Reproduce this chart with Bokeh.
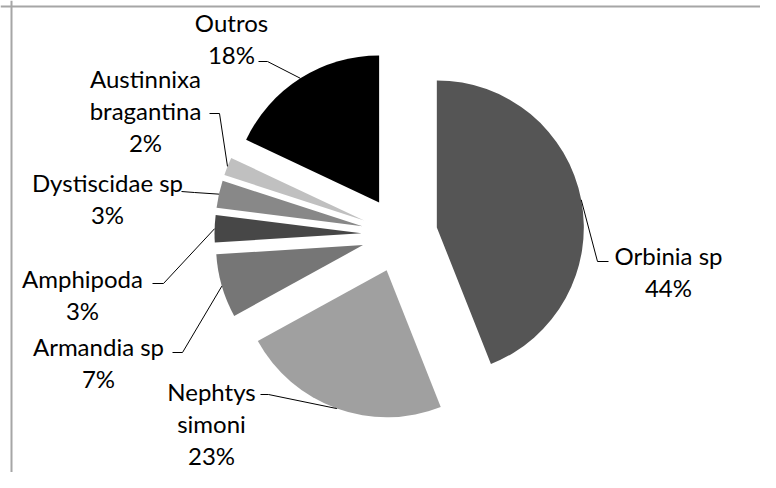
import numpy as np
from bokeh.plotting import figure
from bokeh.models import Range1d, Span, ColumnDataSource
from bokeh.embed import file_html
from bokeh.resources import INLINE
from bokeh.core.properties import value

# ---- data ----
categories = ["Orbinia sp", "Nephtys\nsimoni", "Armandia sp", "Amphipoda",
              "Dystiscidae sp", "Austinnixa\nbragantina", "Outros"]
percent = [44, 23, 7, 3, 3, 2, 18]
colors = ["#555555", "#a0a0a0", "#767676", "#474747", "#888888", "#c0c0c0", "#000000"]

# ---- layout (figure pixels, from top-left) ----
W, H = 760, 472
SHIFT = 16                 # move content up so everything fits the window
CX, CY = 399, 250 - SHIFT  # pie centre
R = 147                    # slice radius
EXPLODE = 38               # explosion distance
# label block centres
label_pos = [(668, 287), (211, 439), (98, 378), (82, 310), (107, 214), (145, 126), (231, 54)]
# leader line: label end point and elbow
leader_end = [(608, 277), (260, 410), (172, 368), (152, 299), (181, 207), (209, 129), (258, 77)]
leader_elbow = [(597, 277), (268, 410), (182, 368), (163, 299), (194, 208), (219, 129), (267, 77)]


def to_data(px, py):
    return px - CX, CY - (py - SHIFT)


vals = np.array(percent, dtype=float)
frac = vals / vals.sum()
cum_end = np.cumsum(frac) * 2 * np.pi
cum_start = cum_end - frac * 2 * np.pi
mid = (cum_start + cum_end) / 2

wx = EXPLODE * np.sin(mid)
wy = EXPLODE * np.cos(mid)
start_angle = np.pi / 2 - cum_start
end_angle = np.pi / 2 - cum_end

src = ColumnDataSource(dict(x=wx, y=wy, sa=start_angle, ea=end_angle, color=colors))

p = figure(width=W, height=H,
           x_range=Range1d(-CX, W - CX),
           y_range=Range1d(CY - H, CY),
           output_backend="svg", toolbar_location=None, min_border=0,
           outline_line_color=None, background_fill_color="white")
p.axis.visible = False
p.grid.visible = False

p.wedge(x="x", y="y", radius=R, start_angle="sa", end_angle="ea", direction="clock",
        fill_color="color", line_color=None, source=src)

# leader lines
lxs, lys = [], []
for i in range(len(percent)):
    ax = (EXPLODE + R) * np.sin(mid[i])
    ay = (EXPLODE + R) * np.cos(mid[i])
    ex, ey = to_data(*leader_end[i])
    bx, by = to_data(*leader_elbow[i])
    lxs.append([ex, bx, ax])
    lys.append([ey, by, ay])
p.multi_line(lxs, lys, line_color="black", line_width=1)

# labels
tx = [to_data(*lp)[0] for lp in label_pos]
ty = [to_data(*lp)[1] for lp in label_pos]
texts = [f"{c}\n{v}%" for c, v in zip(categories, percent)]
p.text(x=tx, y=ty, text=texts, text_align="center", text_baseline="middle",
       text_font=value("Lato"), text_font_size="24px", text_line_height=1.12,
       text_color="black")

# chart-area border (left and top visible)
p.add_layout(Span(location=11 - CX, dimension="height", line_color="#a6a6a6", line_width=2))
p.add_layout(Span(location=CY - 6, dimension="width", line_color="#a6a6a6", line_width=2))

open("out.html", "w").write(file_html(p, INLINE))
